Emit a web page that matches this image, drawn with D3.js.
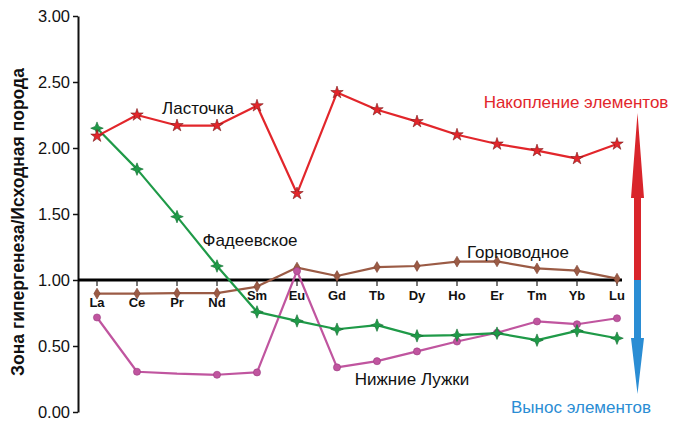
<!DOCTYPE html>
<html>
<head>
<meta charset="utf-8">
<script src="https://cdn.jsdelivr.net/npm/d3@7"></script>
<style>
  html, body { margin: 0; padding: 0; background: #fff; }
  svg { display: block; font-family: "Liberation Sans", Arial, sans-serif; }
</style>
</head>
<body>
<svg id="chart" width="686" height="421"></svg>
<script>
// Rare earth elements along the x axis
const elements = ["La", "Ce", "Pr", "Nd", "Sm", "Eu", "Gd", "Tb", "Dy", "Ho", "Er", "Tm", "Yb", "Lu"];

// Ratio of weathering-zone content to parent rock, per deposit
const lastochka   = [2.09, 2.25, 2.17, 2.17, 2.32, 1.655, 2.42, 2.29, 2.20, 2.10, 2.03, 1.98, 1.92, 2.03];
const fadeevskoe  = [2.15, 1.84, 1.48, 1.106, 0.758, 0.69, 0.627, 0.658, 0.577, 0.582, 0.597, 0.544, 0.615, 0.559];
const gornovodnoe = [0.897, 0.897, 0.90, 0.90, 0.95, 1.094, 1.03, 1.098, 1.106, 1.139, 1.141, 1.088, 1.071, 1.01];
const nizhnieLuzhki = [0.716, 0.305, 0.29, 0.282, 0.30, 1.068, 0.338, 0.385, 0.459, 0.534, 0.60, 0.686, 0.665, 0.71];
// Points of Нижние Лужки that carry a marker (Pr has none)
const luzhkiMarked = [true, true, false, true, true, true, true, true, true, true, true, true, true, true];

const yTicks = [0, 0.5, 1, 1.5, 2, 2.5, 3];
const baseline = 1.0;

const svg = d3.select("#chart");

const x = d3.scalePoint().domain(elements).range([97, 617]);
const y = d3.scaleLinear().domain([0, 3]).range([412, 16]);

// Y axis
const yAxis = d3.axisLeft(y)
  .tickValues(yTicks)
  .tickFormat(d3.format(".2f"))
  .tickSize(5)
  .tickSizeOuter(0)
  .tickPadding(3);

const gy = svg.append("g").attr("transform", "translate(78,0)").call(yAxis);
gy.select(".domain").attr("stroke", "#111").attr("stroke-width", 2);
gy.selectAll(".tick line").attr("stroke", "#111").attr("stroke-width", 1.5);
gy.selectAll(".tick text")
  .attr("fill", "#111")
  .style("font-size", "16.5px")
  .attr("dy", "0.33em");

// Axis title
svg.append("text")
  .attr("transform", "translate(24,222) rotate(-90)")
  .attr("text-anchor", "middle")
  .style("font-size", "17.5px")
  .style("font-weight", "bold")
  .attr("fill", "#111")
  .text("Зона гипергенеза/Исходная порода");

// Reference line at 1.00 with element ticks below it
const by = y(baseline);
svg.append("line")
  .attr("x1", 78).attr("x2", 622)
  .attr("y1", by).attr("y2", by)
  .attr("stroke", "#000").attr("stroke-width", 3);

svg.append("g").selectAll("line").data(elements).join("line")
  .attr("x1", d => x(d)).attr("x2", d => x(d))
  .attr("y1", by).attr("y2", by + 6)
  .attr("stroke", "#222").attr("stroke-width", 1.2);

svg.append("g").selectAll("text").data(elements).join("text")
  .attr("x", d => x(d))
  .attr("y", (d, i) => Math.max(by + 15, y(gornovodnoe[i]) + 9))
  .attr("dy", "0.36em")
  .attr("text-anchor", "middle")
  .style("font-size", "13px")
  .style("font-weight", "bold")
  .attr("fill", "#111")
  .text(d => d);

// Four-pointed star marker
const star4 = {
  draw(ctx, size) {
    const r = Math.sqrt(size) * 0.75;
    const w = r * 0.28;
    ctx.moveTo(0, -r);
    ctx.lineTo(w, -w);
    ctx.lineTo(r, 0);
    ctx.lineTo(w, w);
    ctx.lineTo(0, r);
    ctx.lineTo(-w, w);
    ctx.lineTo(-r, 0);
    ctx.lineTo(-w, -w);
    ctx.closePath();
  }
};

const line = d3.line().x((d, i) => x(elements[i])).y(d => y(d));

function drawSeries(values, color, symbolType, size, markerStroke, marked) {
  const g = svg.append("g");
  g.append("path")
    .datum(values)
    .attr("d", line)
    .attr("fill", "none")
    .attr("stroke", color)
    .attr("stroke-width", 2.2)
    .attr("stroke-linejoin", "round");
  g.selectAll("path.m")
    .data(values.map((v, i) => ({ v, i })).filter(d => !marked || marked[d.i]))
    .join("path")
    .attr("class", "m")
    .attr("transform", d => `translate(${x(elements[d.i])},${y(d.v)})`)
    .attr("d", d3.symbol().type(symbolType).size(size))
    .attr("fill", color)
    .attr("stroke", markerStroke)
    .attr("stroke-width", 0.6);
}

drawSeries(gornovodnoe, "#9b5b45", d3.symbolDiamond, 34, "#7a4030");
drawSeries(nizhnieLuzhki, "#c0559f", d3.symbolCircle, 40, "#9a3a80", luzhkiMarked);
drawSeries(fadeevskoe, "#1f9a48", star4, 70, "#136b30");
drawSeries(lastochka, "#e2262b", d3.symbolStar, 48, "#7a1a1a");

// Series names
const labels = [
  { t: "Ласточка", x: 198, y: 108 },
  { t: "Фадеевское", x: 250, y: 240 },
  { t: "Горноводное", x: 518, y: 252 },
  { t: "Нижние Лужки", x: 412, y: 379 }
];
svg.append("g").selectAll("text").data(labels).join("text")
  .attr("x", d => d.x).attr("y", d => d.y)
  .attr("dy", "0.36em")
  .attr("text-anchor", "middle")
  .style("font-size", "17px")
  .attr("fill", "#111")
  .text(d => d.t);

// Double arrow: accumulation (up, red) and removal (down, blue)
const ax = 637.5;
const shaftW = 7, headW = 13;
const upTip = 113, upBase = 198, downBase = 338, downTip = 394;
svg.append("path")
  .attr("d", `M${ax - shaftW / 2},${by} L${ax - shaftW / 2},${upBase} L${ax - headW / 2},${upBase} L${ax},${upTip} L${ax + headW / 2},${upBase} L${ax + shaftW / 2},${upBase} L${ax + shaftW / 2},${by} Z`)
  .attr("fill", "#d9252b");
svg.append("path")
  .attr("d", `M${ax - shaftW / 2},${by} L${ax - shaftW / 2},${downBase} L${ax - headW / 2},${downBase} L${ax},${downTip} L${ax + headW / 2},${downBase} L${ax + shaftW / 2},${downBase} L${ax + shaftW / 2},${by} Z`)
  .attr("fill", "#2a8dd4");

svg.append("text")
  .attr("x", 576).attr("y", 102).attr("dy", "0.36em")
  .attr("text-anchor", "middle")
  .style("font-size", "17px")
  .attr("fill", "#e2262b")
  .text("Накопление элементов");

svg.append("text")
  .attr("x", 581).attr("y", 407).attr("dy", "0.36em")
  .attr("text-anchor", "middle")
  .style("font-size", "17px")
  .attr("fill", "#2a8dd4")
  .text("Вынос элементов");
</script>
</body>
</html>
